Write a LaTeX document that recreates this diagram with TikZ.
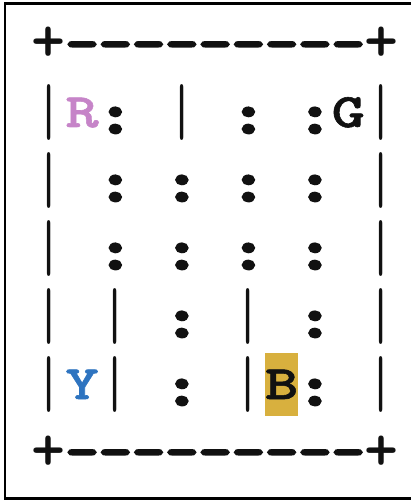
\documentclass[tikz,border=0pt]{standalone}
\usepackage{fontspec}
\setmonofont{lmmonolt10-bold.otf}[FakeBold=1.2, FakeStretch=1.32]
\newfontfamily\wallfont{lmmono10-regular.otf}
\newfontfamily\gapfont{lmmonolt10-bold.otf}[FakeBold=5, FakeStretch=1.32]
\newfontfamily\cornerfont{lmmonolt10-bold.otf}
\usepackage{graphicx}
\usepackage{tikz}
\definecolor{locRed}{HTML}{C684C8}
\definecolor{locYellow}{HTML}{2E74C0}
\definecolor{taxiFill}{HTML}{D8B03E}
\definecolor{textMain}{HTML}{111111}
% one map cell is 0.525em * 1.32 wide at 48pt
\newcommand{\wallbar}{\makebox[33.264pt]{\raisebox{-7pt}{\scalebox{1}[1.5]{\wallfont|}}}}
\newcommand{\gapmark}{\makebox[33.264pt]{\raisebox{-6pt}{\scalebox{1.2}{\gapfont:}}}}
\newcommand{\cornermark}{\makebox[33.264pt]{\raisebox{-3pt}{\scalebox{1.35}{\cornerfont+}}}}
\tikzset{
  gridrow/.style={anchor=base west, inner sep=0pt,
    font=\ttfamily\fontsize{48}{48}\selectfont, text=textMain},
  taxicell/.style={fill=taxiFill, inner sep=0pt,
    minimum width=33pt, minimum height=63pt},
  outerframe/.style={draw=black, line width=2.5pt},
}

\begin{document}
\begin{tikzpicture}[x=1pt, y=-1pt]

  \useasboundingbox (0,0) rectangle (411,500);
  \clip (0,0) rectangle (411,500);

  % === Outer frame (right side runs off the picture) ===
  \draw[outerframe] (5,3.5) rectangle (430,498.5);

  % === Taxi cell behind B ===
  \node[taxicell] (taxi) at (281.5,384.5) {};

  % === Map rows ===
  \node[gridrow] (wallTop) at (32,59)  {\cornermark{\gapfont---------}\cornermark};
  \node[gridrow] (row1)    at (32,127) {\wallbar\textcolor{locRed}{R}\gapmark{} \wallbar{} \gapmark{} \gapmark G\wallbar};
  \node[gridrow] (row2)    at (32,195) {\wallbar{} \gapmark{} \gapmark{} \gapmark{} \gapmark{} \wallbar};
  \node[gridrow] (row3)    at (32,263) {\wallbar{} \gapmark{} \gapmark{} \gapmark{} \gapmark{} \wallbar};
  \node[gridrow] (row4)    at (32,331) {\wallbar{} \wallbar{} \gapmark{} \wallbar{} \gapmark{} \wallbar};
  \node[gridrow] (row5)    at (32,399) {\wallbar\textcolor{locYellow}{Y}\wallbar{} \gapmark{} \wallbar B\gapmark{} \wallbar};
  \node[gridrow] (wallBot) at (32,467) {\cornermark{\gapfont---------}\cornermark};

\end{tikzpicture}
\end{document}
